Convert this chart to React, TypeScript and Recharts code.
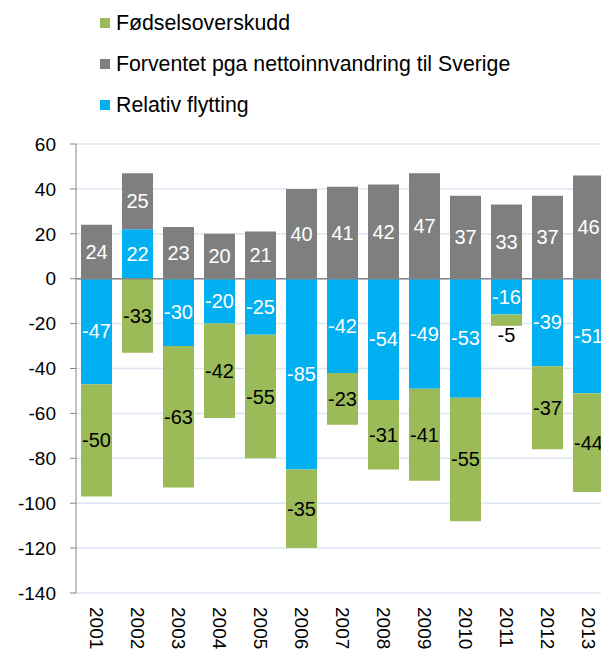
import { Bar, BarChart, CartesianGrid, LabelList, ReferenceLine, XAxis, YAxis } from "recharts";

const years = ["2001", "2002", "2003", "2004", "2005", "2006", "2007", "2008", "2009", "2010", "2011", "2012", "2013"];
const forventet = [24, 25, 23, 20, 21, 40, 41, 42, 47, 37, 33, 37, 46];
const relativ = [-47, 22, -30, -20, -25, -85, -42, -54, -49, -53, -16, -39, -51];
const fodsel = [-50, -33, -63, -42, -55, -35, -23, -31, -41, -55, -5, -37, -44];
const yTicks = [-140, -120, -100, -80, -60, -40, -20, 0, 20, 40, 60];

const GREEN = "#9BBB59";
const GRAY = "#7F7F7F";
const BLUE = "#00B0F0";
const FONT = "'Liberation Sans', Arial, sans-serif";

const legendItems = [
  { name: "Fødselsoverskudd", color: GREEN },
  { name: "Forventet pga nettoinnvandring til Sverige", color: GRAY },
  { name: "Relativ flytting", color: BLUE },
];

const data = years.map((year, i) => ({
  year,
  relativ: relativ[i],
  fodsel: fodsel[i],
  forventet: forventet[i],
}));

function makeLabel(color: string) {
  return (props: any) => {
    const { x, y, width, height, value } = props;
    const top = Math.min(y, y + height);
    const h = Math.abs(height);
    const cx = x + width / 2;
    // tiny segments get their number just underneath
    const cy = h < 20 ? top + h + 9 : top + h / 2;
    return (
      <text
        x={cx}
        y={cy}
        textAnchor="middle"
        dominantBaseline="central"
        fontSize={20}
        fontFamily={FONT}
        fill={h < 20 ? "#000" : color}
      >
        {value}
      </text>
    );
  };
}

// years run top-to-bottom under each bar
const XTick = ({ x, y, payload }: any) => (
  <text
    x={x}
    y={y + 6}
    transform={`rotate(90 ${x} ${y + 6})`}
    textAnchor="start"
    dominantBaseline="central"
    fontSize={19}
    fontFamily={FONT}
    fill="#000"
  >
    {payload.value}
  </text>
);

export default function App() {
  return (
    <div style={{ position: "absolute", left: 0, top: 0, width: 601, height: 650, overflow: "hidden", background: "#fff" }}>
      {legendItems.map((item, i) => (
        <div
          key={item.name}
          style={{
            position: "absolute",
            left: 100,
            top: 10 + i * 41,
            height: 26,
            display: "flex",
            alignItems: "center",
            fontFamily: FONT,
            fontSize: 21.3,
            color: "#000",
            whiteSpace: "nowrap",
          }}
        >
          <span style={{ display: "inline-block", width: 10, height: 10, background: item.color, marginRight: 6 }} />
          {item.name}
        </div>
      ))}
      <BarChart
        width={625}
        height={650}
        data={data}
        stackOffset="sign"
        barSize={31}
        margin={{ top: 144, right: 16, bottom: 0, left: 0 }}
      >
        <CartesianGrid vertical={false} stroke="#DCE6F2" strokeWidth={1.5} />
        <XAxis dataKey="year" height={57} tick={<XTick />} tickLine={false} axisLine={false} interval={0} />
        <YAxis
          domain={[-140, 60]}
          ticks={yTicks}
          width={76}
          tickSize={6}
          tickMargin={14}
          stroke="#868686"
          tick={{ fontSize: 19, fontFamily: FONT, fill: "#000" }}
          interval={0}
        />
        <Bar dataKey="relativ" stackId="a" fill={BLUE} isAnimationActive={false}>
          <LabelList dataKey="relativ" content={makeLabel("#fff")} />
        </Bar>
        <Bar dataKey="fodsel" stackId="a" fill={GREEN} isAnimationActive={false}>
          <LabelList dataKey="fodsel" content={makeLabel("#000")} />
        </Bar>
        <Bar dataKey="forventet" stackId="a" fill={GRAY} isAnimationActive={false}>
          <LabelList dataKey="forventet" content={makeLabel("#fff")} />
        </Bar>
        <ReferenceLine y={0} stroke="#868686" strokeWidth={1.5} />
      </BarChart>
    </div>
  );
}
